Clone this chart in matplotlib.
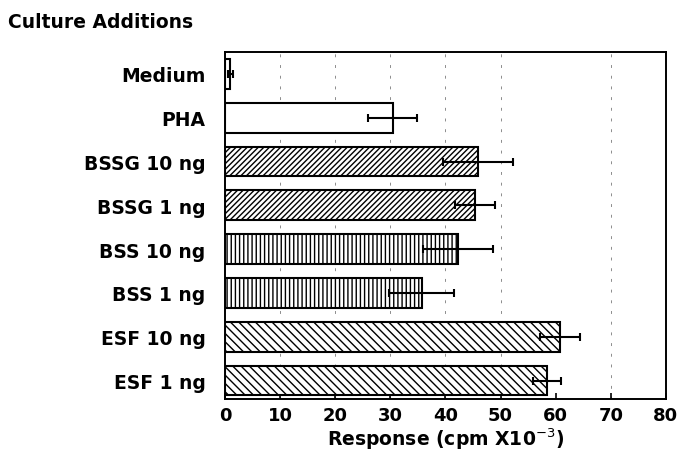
import matplotlib
matplotlib.use("Agg")
import matplotlib.pyplot as plt
import numpy as np

plt.rcParams['font.family'] = ['DejaVu Sans']
plt.rcParams['hatch.linewidth'] = 1.0

categories = ["Medium", "PHA", "BSSG 10 ng", "BSSG 1 ng", "BSS 10 ng", "BSS 1 ng", "ESF 10 ng", "ESF 1 ng"]
values = [1.0, 30.4, 45.9, 45.4, 42.3, 35.7, 60.8, 58.4]
errors = [0.5, 4.4, 6.3, 3.6, 6.3, 5.9, 3.6, 2.6]
hatches = ["", "", "//////", "//////", "||||", "||||", "\\\\\\\\", "\\\\\\\\"]
xticks = [0, 10, 20, 30, 40, 50, 60, 70, 80]

fig = plt.figure(figsize=(6.83, 4.64), dpi=100)
ax = fig.add_axes([0.3294, 0.138, 0.6456, 0.7478])

y = np.arange(len(categories))
for yi, v, e, h in zip(y, values, errors, hatches):
    ax.barh(yi, v, height=0.68, color="white", edgecolor="black", linewidth=1.5, hatch=h, zorder=3)
    ax.errorbar(v, yi, xerr=e, fmt="none", ecolor="black", elinewidth=1.5, capsize=3, capthick=1.5, zorder=4)

for xv in [10, 20, 30, 40, 50, 70]:
    ax.axvline(xv, color="0.55", linestyle=(0, (3, 8)), linewidth=0.7, zorder=1)

ax.set_xlim(0, 80)
ax.set_ylim(7.42, -0.5)
ax.set_xticks(xticks)
ax.set_xticklabels([str(t) for t in xticks], fontsize=13, fontweight="bold")
ax.set_yticks(y)
ax.set_yticklabels(categories, fontsize=13.5, fontweight="bold")
ax.tick_params(axis="both", direction="in", length=4, width=1.2)
ax.tick_params(axis="x", pad=5)
ax.tick_params(axis="y", pad=14)
for s in ax.spines.values():
    s.set_linewidth(1.4)

ax.set_xlabel("Response (cpm X10$^{-3}$)", fontsize=13.5, fontweight="bold", labelpad=1)
fig.text(0.012, 0.952, "Culture Additions", fontsize=13.5, fontweight="bold", ha="left", va="center")

fig.savefig("out.png", dpi=100)
